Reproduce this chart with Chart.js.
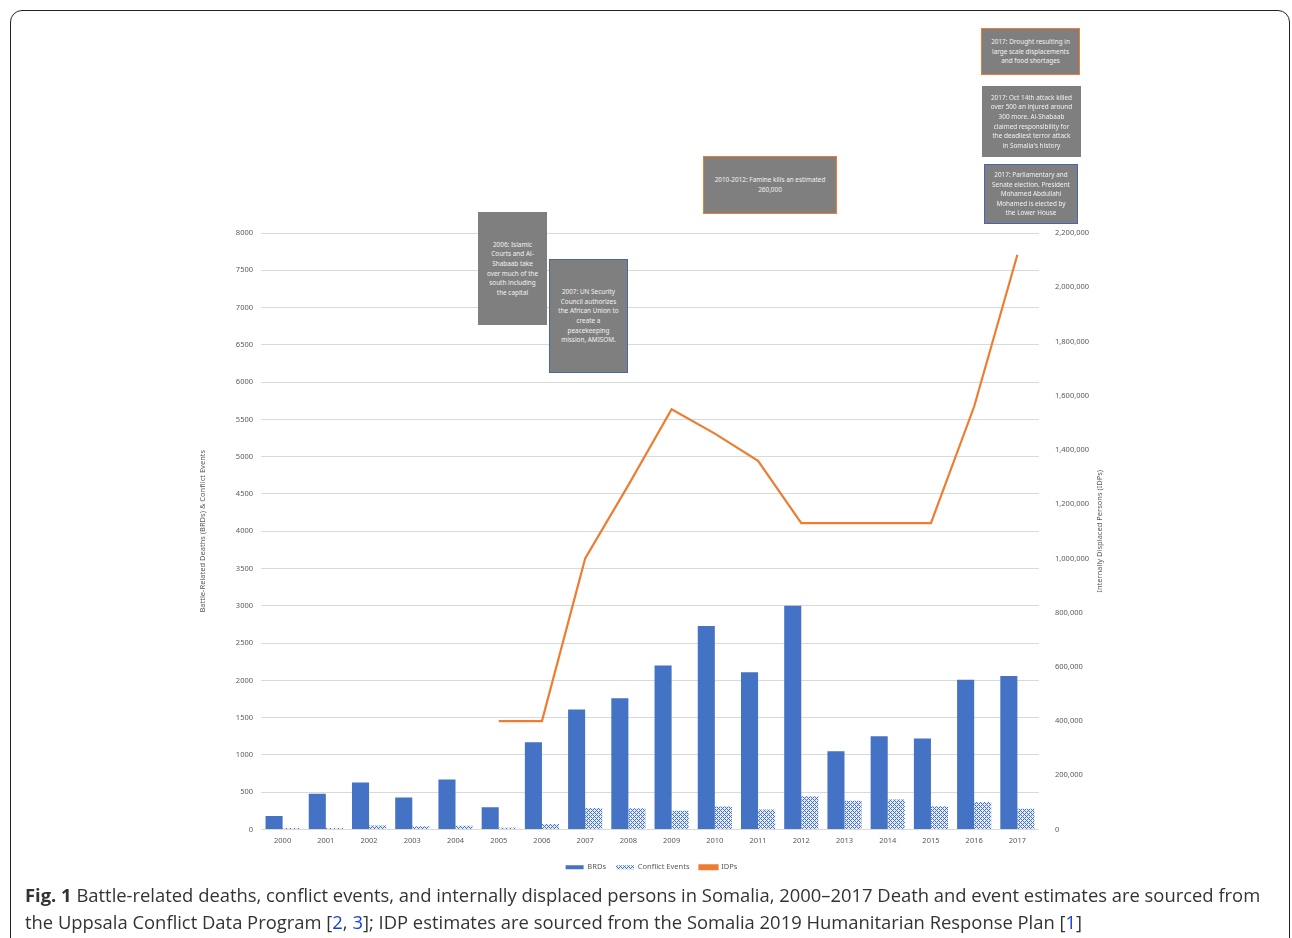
<!DOCTYPE html>
<html>
<head>
<meta charset="utf-8">
<script src="https://cdn.jsdelivr.net/npm/chart.js@4/dist/chart.umd.min.js"></script>
<style>
    html, body { margin: 0; padding: 0; background: #fff; }
    body { width: 1292px; height: 938px; position: relative; overflow: hidden; font-family: 'Open Sans', sans-serif; }
    .frame { position: absolute; left: 10px; top: 10px; width: 1278px; height: 980px; border: 1.5px solid #222; border-radius: 12px; }
    .chart-wrap { position: absolute; left: 194px; top: 200px; width: 915px; height: 690px; }
    .note { position: absolute; background: #7f7f7f; color: #f2f2f2; font-family: 'Noto Sans', sans-serif; font-size: 6.4px; line-height: 9.6px; text-align: center; display: flex; align-items: center; justify-content: center; box-sizing: border-box; }
    .note.orange { border: 1.5px solid #ed7d31; }
    .note.blue { border: 1.5px solid #4a66a8; }
    .caption { position: absolute; left: 25px; top: 881px; width: 1252px; font-size: 18.4px; line-height: 27px; color: #333; }
    .caption a { color: #1a3fd6; text-decoration: none; }
</style>
</head>
<body>
<div class="frame"></div>
<div class="chart-wrap"><canvas id="somaliaChart"></canvas></div>

<div class="note" style="left:478px;top:212px;width:69px;height:113px;">2006: Islamic<br>Courts and Al-<br>Shabaab take<br>over much of the<br>south including<br>the capital</div>
<div class="note blue" style="left:549px;top:259px;width:79px;height:114px;">2007: UN Security<br>Council authorizes<br>the African Union to<br>create a<br>peacekeeping<br>mission, AMISOM.</div>
<div class="note orange" style="left:703px;top:156px;width:134px;height:58px;">2010-2012: Famine kills an estimated<br>260,000</div>
<div class="note orange" style="left:981px;top:28px;width:99px;height:47px;">2017: Drought resulting in<br>large scale displacements<br>and food shortages</div>
<div class="note" style="left:982px;top:86px;width:99px;height:71px;">2017: Oct 14th attack killed<br>over 500 an injured around<br>300 more. Al-Shabaab<br>claimed responsibility for<br>the deadliest terror attack<br>in Somalia's history</div>
<div class="note blue" style="left:984px;top:164px;width:94px;height:60px;">2017: Parliamentary and<br>Senate election. President<br>Mohamed Abdullahi<br>Mohamed is elected by<br>the Lower House</div>

<div class="caption"><b>Fig. 1</b> Battle-related deaths, conflict events, and internally displaced persons in Somalia, 2000–2017 Death and event estimates are sourced from the Uppsala Conflict Data Program [<a>2</a>, <a>3</a>]; IDP estimates are sourced from the Somalia 2019 Humanitarian Response Plan [<a>1</a>]</div>

<script>
const years = ['2000', '2001', '2002', '2003', '2004', '2005', '2006', '2007', '2008',
    '2009', '2010', '2011', '2012', '2013', '2014', '2015', '2016', '2017'];
const brds = [180, 480, 630, 430, 670, 300, 1170, 1610, 1760, 2200, 2730, 2110, 3000, 1050, 1250, 1220, 2010, 2060];
const conflictEvents = [20, 20, 55, 45, 50, 25, 75, 290, 285, 250, 308, 268, 446, 384, 401, 312, 370, 277];
const idps = [null, null, null, null, null, 400000, 400000, 1000000, 1270000, 1550000, 1460000,
    1360000, 1130000, 1130000, 1130000, 1130000, 1560000, 2120000];

const blue = '#4472C4';
const orange = '#ED7D31';
const tickColor = '#595959';
const fontFamily = "'Noto Sans', sans-serif";

function makeHatch() {
    const c = document.createElement('canvas');
    c.width = 4;
    c.height = 4;
    const g = c.getContext('2d');
    g.fillStyle = '#e6edf8';
    g.fillRect(0, 0, 4, 4);
    g.fillStyle = blue;
    for (let x = 0; x < 4; x++) {
        for (let y = 0; y < 4; y++) {
            if ((x + y) % 4 === 0 || (x - y + 4) % 4 === 0) g.fillRect(x, y, 1, 1);
        }
    }
    return g.createPattern(c, 'repeat');
}

// right-hand axis title reads bottom-to-top, like the left one
const rightTitlePlugin = {
    id: 'rightTitle',
    afterDraw(chart) {
        const s = chart.scales.y1;
        const ctx = chart.ctx;
        ctx.save();
        ctx.translate(s.right - 9, (chart.chartArea.top + chart.chartArea.bottom) / 2);
        ctx.rotate(-Math.PI / 2);
        ctx.fillStyle = tickColor;
        ctx.font = `7.5px ${fontFamily}`;
        ctx.textAlign = 'center';
        ctx.textBaseline = 'middle';
        ctx.fillText('Internally Displaced Persons (IDPs)', 0, 0);
        ctx.restore();
    },
};

const hatch = makeHatch();
const tickFont = { family: fontFamily, size: 7.5 };

new Chart(document.getElementById('somaliaChart'), {
    type: 'bar',
    data: {
        labels: years,
        datasets: [
            {
                label: 'BRDs',
                data: brds,
                backgroundColor: blue,
                yAxisID: 'y',
                order: 2,
                categoryPercentage: 0.79,
                barPercentage: 1,
            },
            {
                label: 'Conflict Events',
                data: conflictEvents,
                backgroundColor: hatch,
                yAxisID: 'y',
                order: 2,
                categoryPercentage: 0.79,
                barPercentage: 1,
            },
            {
                type: 'line',
                label: 'IDPs',
                data: idps,
                borderColor: orange,
                backgroundColor: orange,
                borderWidth: 2.2,
                pointRadius: 0,
                tension: 0,
                yAxisID: 'y1',
                order: 1,
            },
        ],
    },
    plugins: [rightTitlePlugin],
    options: {
        responsive: true,
        maintainAspectRatio: false,
        animation: false,
        layout: { padding: { top: 33, bottom: 9, left: 0, right: 0 } },
        plugins: {
            tooltip: { enabled: false },
            legend: {
                position: 'bottom',
                labels: {
                    boxWidth: 18,
                    boxHeight: 4,
                    padding: 10,
                    color: tickColor,
                    font: tickFont,
                    sort: (a, b) => a.datasetIndex - b.datasetIndex,
                },
            },
        },
        scales: {
            x: {
                grid: { display: false, drawTicks: false },
                border: { display: false },
                ticks: { color: tickColor, font: tickFont, padding: 7, maxRotation: 0 },
                afterFit(scale) { scale.height = 24; },
            },
            y: {
                position: 'left',
                min: 0,
                max: 8000,
                ticks: { stepSize: 500, color: tickColor, font: tickFont, padding: 8, callback: (v) => String(v) },
                grid: { color: '#D9D9D9', drawTicks: false },
                border: { display: false },
                title: {
                    display: true,
                    text: 'Battle-Related Deaths (BRDs) & Conflict Events',
                    color: tickColor,
                    font: tickFont,
                },
                afterFit(scale) { scale.width = 67; },
            },
            y1: {
                position: 'right',
                min: 0,
                max: 2200000,
                ticks: {
                    stepSize: 200000,
                    color: tickColor,
                    font: tickFont,
                    padding: 16,
                    callback: (v) => v.toLocaleString('en-US'),
                },
                grid: { display: false, drawTicks: false },
                border: { display: false },
                afterFit(scale) { scale.width = 70; },
            },
        },
    },
});
</script>
</body>
</html>
